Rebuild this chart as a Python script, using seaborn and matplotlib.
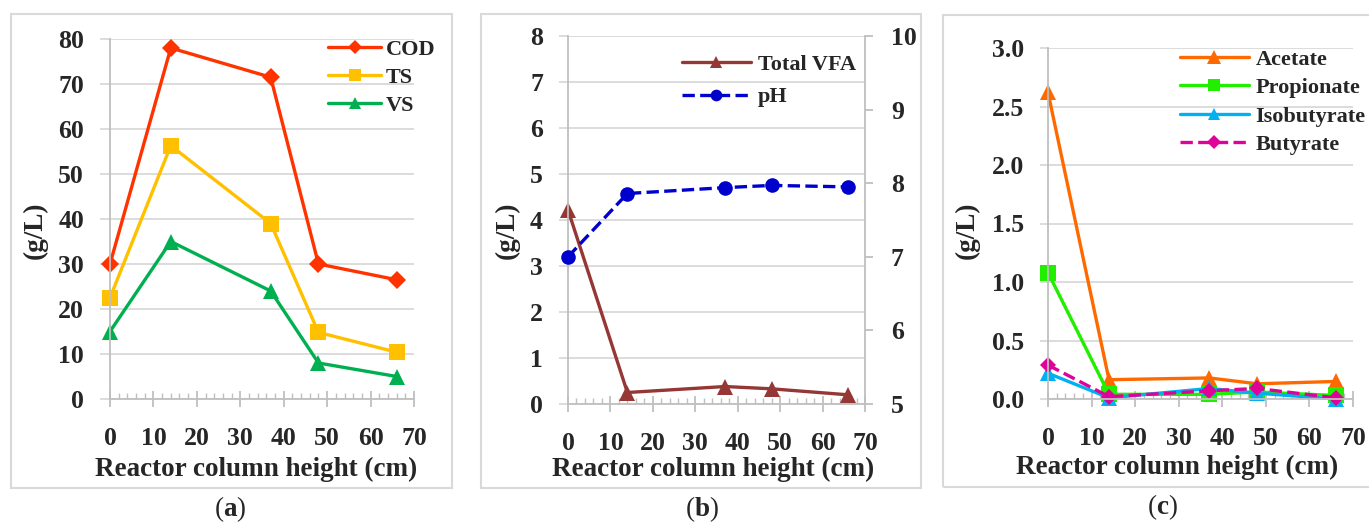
import numpy as np
import pandas as pd
import matplotlib
matplotlib.use("Agg")
import matplotlib.pyplot as plt
from matplotlib.ticker import MultipleLocator
from matplotlib.patches import Rectangle
import seaborn as sns

# ---------------- data ----------------
height_cm = [0, 14, 37, 48, 66]

cod = [30, 78, 71.5, 30, 26.5]
ts = [22.5, 56.3, 39, 14.8, 10.4]
vs = [15, 35, 24, 8, 5]

total_vfa = [4.22, 0.25, 0.38, 0.33, 0.2]
ph = [7.0, 7.86, 7.94, 7.97, 7.95]

acetate = [2.62, 0.165, 0.18, 0.13, 0.15]
propionate = [1.08, 0.04, 0.04, 0.06, 0.03]
isobutyrate = [0.22, 0.01, 0.09, 0.05, 0.0]
butyrate = [0.29, 0.02, 0.07, 0.09, 0.01]

x_ticks = [0, 10, 20, 30, 40, 50, 60, 70]
# --------------------------------------

sns.set_style("white")
plt.rcParams['font.family'] = ['Liberation Serif', 'DejaVu Serif']
plt.rcParams['font.weight'] = 'bold'
plt.rcParams['mathtext.fontset'] = 'custom'
plt.rcParams['mathtext.rm'] = 'Liberation Serif'
plt.rcParams['mathtext.bf'] = 'Liberation Serif:bold'

W, H = 1369, 525
fig = plt.figure(figsize=(W / 100, H / 100), dpi=100)

def fx(px):
    return px / W

def fy(py):
    return 1 - py / H

def pt(px):
    return px * 72 / 100

GRID = '#D9D9D9'
SPINE = '#BFBFBF'
TICKFS = 18.5
LEGFS = 16
LABFS = 19.5

def make_axes(l, r, top, bot):
    return fig.add_axes([fx(l), fy(bot), fx(r) - fx(l), fy(top) - fy(bot)])

def style(ax, ymax, ystep, ytick_px, ypad_px, ylabfmt=None):
    ax.set_xlim(0, 70)
    ax.set_ylim(0, ymax)
    ax.set_xticks(x_ticks)
    ax.xaxis.set_minor_locator(MultipleLocator(2))
    ax.yaxis.set_major_locator(MultipleLocator(ystep))
    ax.grid(axis='y', color=GRID, lw=1.3)
    ax.grid(axis='x', visible=False)
    for s in ['top', 'right']:
        ax.spines[s].set_visible(False)
    for s in ['left', 'bottom']:
        ax.spines[s].set_color(SPINE)
        ax.spines[s].set_linewidth(1.3)
    ax.tick_params(axis='x', which='major', direction='inout', length=pt(16), width=1.3,
                   color=SPINE, pad=pt(20), labelsize=TICKFS, bottom=True)
    ax.tick_params(axis='x', which='minor', direction='in', length=pt(6), width=1.0,
                   color=SPINE, bottom=True)
    ax.tick_params(axis='y', which='major', direction='out', length=pt(ytick_px), width=1.3,
                   color=GRID, pad=pt(ypad_px), labelsize=TICKFS, left=True)
    ax.set_axisbelow(True)
    if ylabfmt:
        ax.set_yticklabels([ylabfmt % v for v in ax.get_yticks()])
    for lab in ax.get_xticklabels() + ax.get_yticklabels():
        lab.set_fontweight('bold')
    ax.set_xlabel('')
    ax.set_ylabel('')

LW = 2.4

# ---------- panel (a) ----------
axa = make_axes(110, 414, 39, 399)
df_a = pd.DataFrame({'h': height_cm, 'COD': cod, 'TS': ts, 'VS': vs})
sns.lineplot(data=df_a, x='h', y='COD', ax=axa, color='#FF3300', lw=LW, marker='D',
             markersize=9, markeredgewidth=0, label='COD')
sns.lineplot(data=df_a, x='h', y='TS', ax=axa, color='#FFC000', lw=LW, marker='s',
             markersize=11, markeredgewidth=0, label='TS')
sns.lineplot(data=df_a, x='h', y='VS', ax=axa, color='#00B050', lw=LW, marker='^',
             markersize=11, markeredgewidth=0, label='VS')
for l in axa.lines:
    l.set_clip_on(False)
style(axa, 80, 10, 10, 16)
axa.legend(loc='upper left', bbox_to_anchor=(fx(328), fy(39)), bbox_transform=fig.transFigure,
           frameon=False, fontsize=LEGFS, handlelength=2.4, handletextpad=0.2,
           labelspacing=0.34, borderpad=0, borderaxespad=0, markerscale=0.8)

# ---------- panel (b) ----------
axb = make_axes(568, 865, 36, 404)
df_b = pd.DataFrame({'h': height_cm, 'vfa': total_vfa, 'ph': ph})
sns.lineplot(data=df_b, x='h', y='vfa', ax=axb, color='#953735', lw=LW, marker='^',
             markersize=11, markeredgewidth=0, label='Total VFA')
style(axb, 8, 1, 9, 16)
axb2 = axb.twinx()
sns.lineplot(data=df_b, x='h', y='ph', ax=axb2, color='#0000CC', lw=LW, marker='o',
             markersize=10.5, markeredgewidth=0, linestyle='--', label='pH')
axb2.set_ylim(5, 10)
axb2.yaxis.set_major_locator(MultipleLocator(1))
axb2.grid(False)
for s in ['top', 'left', 'bottom']:
    axb2.spines[s].set_visible(False)
axb2.spines['right'].set_color(SPINE)
axb2.spines['right'].set_linewidth(1.3)
axb2.tick_params(axis='y', direction='out', length=pt(8), width=1.3, color=SPINE,
                 pad=pt(18), labelsize=TICKFS, right=True)
for lab in axb2.get_yticklabels():
    lab.set_fontweight('bold')
axb2.set_ylabel('')
for l in axb.lines + axb2.lines:
    l.set_clip_on(False)
h1, l1 = axb.get_legend_handles_labels()
h2, l2 = axb2.get_legend_handles_labels()
if axb.get_legend():
    axb.get_legend().remove()
if axb2.get_legend():
    axb2.get_legend().remove()
axb2.legend(h1 + h2, l1 + l2, loc='upper left', bbox_to_anchor=(fx(682), fy(54)),
            bbox_transform=fig.transFigure, frameon=False, fontsize=LEGFS, handlelength=3.1,
            handletextpad=0.3, labelspacing=0.55, borderpad=0, borderaxespad=0, markerscale=0.8)

# ---------- panel (c) ----------
axc = make_axes(1048, 1353, 48, 399)
df_c = pd.DataFrame({'h': height_cm, 'Acetate': acetate, 'Propionate': propionate,
                     'Isobutyrate': isobutyrate, 'Butyrate': butyrate})
sns.lineplot(data=df_c, x='h', y='Acetate', ax=axc, color='#FF6A00', lw=LW, marker='^',
             markersize=12, markeredgewidth=0, label='Acetate')
sns.lineplot(data=df_c, x='h', y='Propionate', ax=axc, color='#22EE00', lw=LW, marker='s',
             markersize=11, markeredgewidth=0, label='Propionate')
sns.lineplot(data=df_c, x='h', y='Isobutyrate', ax=axc, color='#00B0F0', lw=LW, marker='^',
             markersize=11, markeredgewidth=0, label='Isobutyrate')
sns.lineplot(data=df_c, x='h', y='Butyrate', ax=axc, color='#E0009A', lw=LW, marker='D',
             markersize=8.5, markeredgewidth=0, linestyle='--', label='Butyrate')
for l in axc.lines:
    l.set_clip_on(False)
style(axc, 3, 0.5, 8, 16, ylabfmt='%.1f')
axc.legend(loc='upper left', bbox_to_anchor=(fx(1180), fy(49)), bbox_transform=fig.transFigure,
           frameon=False, fontsize=LEGFS, handlelength=3.1, handletextpad=0.3,
           labelspacing=0.36, borderpad=0, borderaxespad=0, markerscale=0.8)

# ---------- labels, borders, captions ----------
for cx, cy in [(35, 230), (507, 230), (967, 230)]:
    fig.text(fx(cx), fy(cy), '(g/L)', rotation=90, ha='center', va='center',
             fontsize=LABFS, fontweight='bold')
for cx, cy in [(256, 469), (713, 469), (1177, 467)]:
    fig.text(fx(cx), fy(cy), 'Reactor column height (cm)', ha='center', va='center',
             fontsize=LABFS, fontweight='bold')
for x0, x1, y0, y1 in [(11, 452, 14, 488), (481, 921, 14, 488), (943, 1375, 15, 487)]:
    fig.add_artist(Rectangle((fx(x0), fy(y1)), fx(x1) - fx(x0), fy(y0) - fy(y1),
                             transform=fig.transFigure, fill=False, edgecolor=GRID, lw=1.5))
for cx, cy, letter in [(230, 509, 'a'), (702, 509, 'b'), (1162, 507, 'c')]:
    fig.text(fx(cx), fy(cy), r'($\mathbf{%s}$)' % letter, ha='center', va='center',
             fontsize=LABFS, fontweight='normal')

fig.savefig('out.png', dpi=100)
